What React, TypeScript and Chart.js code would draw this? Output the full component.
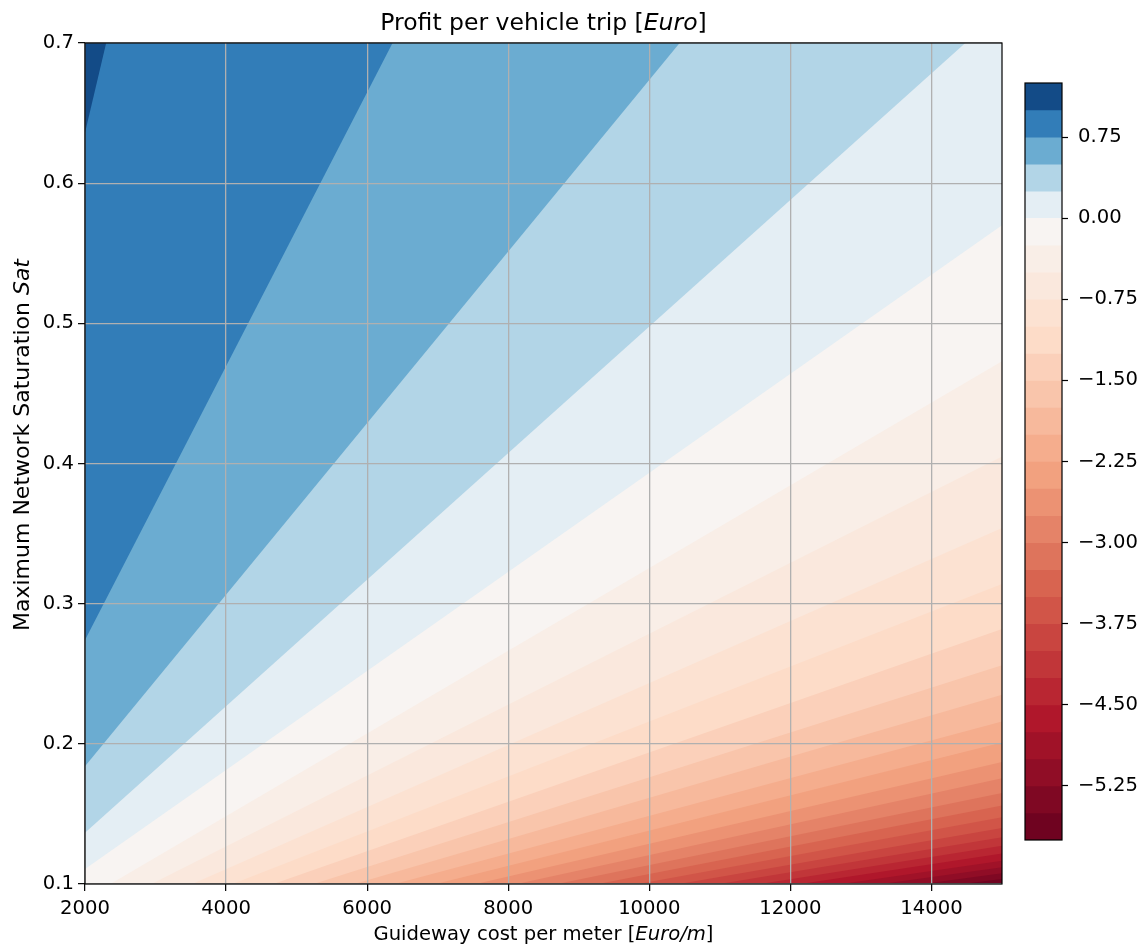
import React, { useEffect, useRef } from "react";
import { Chart, registerables } from "chart.js";

Chart.register(...registerables);

// Plot window
const X_MIN = 2000;
const X_MAX = 15000;
const Y_MIN = 0.1;
const Y_MAX = 0.7;

const xTicks = [2000, 4000, 6000, 8000, 10000, 12000, 14000];
const yTicks = [0.1, 0.2, 0.3, 0.4, 0.5, 0.6, 0.7];
const cbTicks = [0.75, 0, -0.75, -1.5, -2.25, -3, -3.75, -4.5, -5.25];
const cbMin = -5.75;
const cbMax = 1.25;

// Contour levels of the profit surface [Euro], highest first
const levels = [
  1.0, 0.75, 0.5, 0.25, 0.0, -0.25, -0.5, -0.75, -1.0, -1.25, -1.5, -1.75, -2.0,
  -2.25, -2.5, -2.75, -3.0, -3.25, -3.5, -3.75, -4.0, -4.25, -4.5, -4.75, -5.0,
  -5.25, -5.5,
];

// Where each iso-line enters the plot (left or bottom edge) ...
const lineStartX = [
  2000, 2000, 2000, 2000, 2000, 2360, 2940, 3520, 4090, 4670, 5240, 5820, 6390,
  6970, 7540, 8120, 8690, 9270, 9840, 10420, 10990, 11570, 12140, 12720, 13290,
  13870, 14440,
];
const lineStartY = [
  0.636, 0.274, 0.184, 0.1365, 0.1107, 0.1, 0.1, 0.1, 0.1, 0.1, 0.1, 0.1, 0.1,
  0.1, 0.1, 0.1, 0.1, 0.1, 0.1, 0.1, 0.1, 0.1, 0.1, 0.1, 0.1, 0.1, 0.1,
];
// ... and where it leaves (top or right edge)
const lineEndX = [
  2300, 6360, 10430, 14480, 15000, 15000, 15000, 15000, 15000, 15000, 15000,
  15000, 15000, 15000, 15000, 15000, 15000, 15000, 15000, 15000, 15000, 15000,
  15000, 15000, 15000, 15000, 15000,
];
const lineEndY = [
  0.7, 0.7, 0.7, 0.7, 0.57, 0.473, 0.405, 0.354, 0.314, 0.282, 0.256, 0.235,
  0.216, 0.201, 0.187, 0.1755, 0.165, 0.156, 0.1476, 0.14, 0.1334, 0.1273,
  0.1217, 0.1166, 0.1119, 0.1076, 0.1036,
];

const FONT = "'DejaVu Sans', 'Liberation Sans', sans-serif";
const LABEL_SIZE = 19.6;
const YLABEL_SIZE = 22;
const TITLE_SIZE = 23.5;

// RdBu colour map stops (red = low, blue = high)
const RDBU: number[][] = [
  [103, 0, 31], [178, 24, 43], [214, 96, 77], [244, 165, 130], [253, 219, 199],
  [247, 247, 247], [209, 229, 240], [146, 197, 222], [67, 147, 195],
  [33, 102, 172], [5, 48, 97],
];

function rdbu(t: number): string {
  const p = Math.min(1, Math.max(0, t)) * 10;
  const i = Math.min(9, Math.floor(p));
  const f = p - i;
  const a = RDBU[i];
  const b = RDBU[i + 1];
  const c = a.map((v, k) => Math.round(v + (b[k] - v) * f));
  return `rgb(${c[0]},${c[1]},${c[2]})`;
}

// Diverging norm centred on zero
function norm(v: number): number {
  return v < 0 ? 0.5 * (v - cbMin) / (0 - cbMin) : 0.5 + 0.5 * v / cbMax;
}

function bandColor(lo: number, hi: number): string {
  return rdbu(norm((lo + hi) / 2));
}

const upperOf = (i: number) => (i === 0 ? cbMax : levels[i - 1]);

const framePlugin = {
  id: "frame",
  afterDraw(chart: any) {
    const { ctx, chartArea: a } = chart;
    ctx.save();
    ctx.strokeStyle = "#000";
    ctx.lineWidth = 1.2;
    ctx.strokeRect(a.left, a.top, a.right - a.left, a.bottom - a.top);
    ctx.restore();
  },
};

type Run = [string, boolean];

function drawRuns(ctx: CanvasRenderingContext2D, runs: Run[], cx: number, cy: number, size: number) {
  const fontFor = (it: boolean) => `${it ? "italic " : ""}${size}px ${FONT}`;
  let total = 0;
  const widths = runs.map(([t, it]) => {
    ctx.font = fontFor(it);
    const w = ctx.measureText(t).width;
    total += w;
    return w;
  });
  let x = cx - total / 2;
  ctx.textAlign = "left";
  ctx.textBaseline = "alphabetic";
  ctx.fillStyle = "#000";
  runs.forEach(([t, it], i) => {
    ctx.font = fontFor(it);
    ctx.fillText(t, x, cy);
    x += widths[i];
  });
}

const titleRuns: Run[] = [["Profit per vehicle trip [", false], ["Euro", true], ["]", false]];
const xLabelRuns: Run[] = [["Guideway cost per meter [", false], ["Euro/m", true], ["]", false]];
const yLabelRuns: Run[] = [["Maximum Network Saturation ", false], ["Sat", true]];

const labelsPlugin = {
  id: "mixedLabels",
  afterDraw(chart: any) {
    const { ctx, chartArea: a } = chart;
    const cx = (a.left + a.right) / 2;
    ctx.save();
    drawRuns(ctx, titleRuns, cx, 30, TITLE_SIZE);
    drawRuns(ctx, xLabelRuns, cx, 940, LABEL_SIZE);
    ctx.translate(29, 445);
    ctx.rotate(-Math.PI / 2);
    drawRuns(ctx, yLabelRuns, 0, 0, YLABEL_SIZE);
    ctx.restore();
  },
};

function ContourChart() {
  const ref = useRef<HTMLCanvasElement>(null);
  useEffect(() => {
    if (!ref.current) return;
    // Region above each iso-line, painted from the lowest level upwards
    const regions = levels.map((lv, i) => {
      const pts = [
        { x: lineStartX[i], y: lineStartY[i] },
        { x: lineEndX[i], y: lineEndY[i] },
      ];
      if (lineEndX[i] >= X_MAX && lineEndY[i] < Y_MAX) pts.push({ x: X_MAX, y: Y_MAX });
      pts.push({ x: X_MIN, y: Y_MAX });
      if (lineStartY[i] <= Y_MIN && lineStartX[i] > X_MIN) pts.push({ x: X_MIN, y: Y_MIN });
      return {
        label: `>= ${lv}`,
        data: pts,
        showLine: true,
        fill: "shape",
        backgroundColor: bandColor(lv, upperOf(i)),
        borderWidth: 0,
        pointRadius: 0,
      };
    });
    const base = {
      label: "base",
      data: [
        { x: X_MIN, y: Y_MIN }, { x: X_MAX, y: Y_MIN },
        { x: X_MAX, y: Y_MAX }, { x: X_MIN, y: Y_MAX },
      ],
      showLine: true,
      fill: "shape",
      backgroundColor: bandColor(cbMin, levels[levels.length - 1]),
      borderWidth: 0,
      pointRadius: 0,
    };
    const chart = new Chart(ref.current, {
      type: "scatter",
      data: { datasets: [...regions, base] as any },
      options: {
        animation: false,
        responsive: false,
        events: [],
        layout: { padding: { left: 0, right: 141, top: 43, bottom: 0 } },
        plugins: {
          legend: { display: false },
          tooltip: { enabled: false },
          title: { display: false },
        },
        scales: {
          x: {
            type: "linear",
            min: X_MIN,
            max: X_MAX,
            afterBuildTicks: (a: any) => {
              a.ticks = xTicks.map((v) => ({ value: v }));
            },
            afterFit: (s: any) => {
              s.height = 64;
            },
            grid: { color: "#b0b0b0", lineWidth: 1.3, z: 1, tickColor: "#000", tickLength: 7, tickWidth: 1.2 },
            border: { display: false },
            ticks: {
              color: "#000",
              font: { size: LABEL_SIZE, family: FONT },
              padding: 6,
              maxRotation: 0,
              autoSkip: false,
              callback: (v: any) => String(v),
            },
          },
          y: {
            type: "linear",
            min: Y_MIN,
            max: Y_MAX,
            afterBuildTicks: (a: any) => {
              a.ticks = yTicks.map((v) => ({ value: v }));
            },
            afterFit: (s: any) => {
              s.width = 85;
            },
            grid: { color: "#b0b0b0", lineWidth: 1.3, z: 1, tickColor: "#000", tickLength: 7, tickWidth: 1.2 },
            border: { display: false },
            ticks: {
              color: "#000",
              font: { size: LABEL_SIZE, family: FONT },
              padding: 4,
              autoSkip: false,
              callback: (v: any) => Number(v).toFixed(1),
            },
          },
        },
      } as any,
      plugins: [framePlugin, labelsPlugin],
    });
    return () => chart.destroy();
  }, []);
  return (
    <canvas
      ref={ref}
      width={1143}
      height={948}
      style={{ position: "absolute", left: 0, top: 0, width: 1143, height: 948 }}
    />
  );
}

function ColorBar() {
  const ref = useRef<HTMLCanvasElement>(null);
  useEffect(() => {
    if (!ref.current) return;
    const edges = [cbMin, ...[...levels].reverse(), cbMax];
    // each band painted from its lower edge to the top; higher bands overlay lower ones
    const bands = edges.slice(0, -1).map((lo, i) => ({
      lo,
      hi: edges[i + 1],
      color: bandColor(lo, edges[i + 1]),
    }));
    const datasets = bands
      .slice()
      .reverse()
      .map((b) => ({
        label: `${b.lo}..${b.hi}`,
        data: [[b.lo, cbMax]],
        backgroundColor: b.color,
        borderWidth: 0,
        barPercentage: 1,
        categoryPercentage: 1,
        grouped: false,
      }));
    const chart = new Chart(ref.current, {
      type: "bar",
      data: { labels: [""], datasets: datasets as any },
      options: {
        animation: false,
        responsive: false,
        events: [],
        layout: { padding: { left: 25, right: 0, top: 83, bottom: 108 } },
        plugins: { legend: { display: false }, tooltip: { enabled: false } },
        scales: {
          x: { display: false },
          y: {
            position: "right",
            min: cbMin,
            max: cbMax,
            afterBuildTicks: (a: any) => {
              a.ticks = cbTicks.map((v) => ({ value: v }));
            },
            afterFit: (s: any) => {
              s.width = 81;
            },
            grid: { drawOnChartArea: false, drawTicks: true, tickLength: 6, tickColor: "#000", tickWidth: 1.2 },
            border: { display: false },
            ticks: {
              color: "#000",
              font: { size: LABEL_SIZE, family: FONT },
              padding: 10,
              autoSkip: false,
              callback: (v: any) => {
                const n = Number(v);
                const s = Math.abs(n).toFixed(2);
                return n < 0 ? "\u2212" + s : s;
              },
            },
          },
        },
      } as any,
      plugins: [framePlugin],
    });
    return () => chart.destroy();
  }, []);
  return (
    <canvas
      ref={ref}
      width={143}
      height={948}
      style={{ position: "absolute", left: 1000, top: 0, width: 143, height: 948 }}
    />
  );
}

export default function App() {
  return (
    <div style={{ position: "absolute", left: 0, top: 0, width: 1143, height: 948, background: "#fff" }}>
      <ContourChart />
      <ColorBar />
    </div>
  );
}
